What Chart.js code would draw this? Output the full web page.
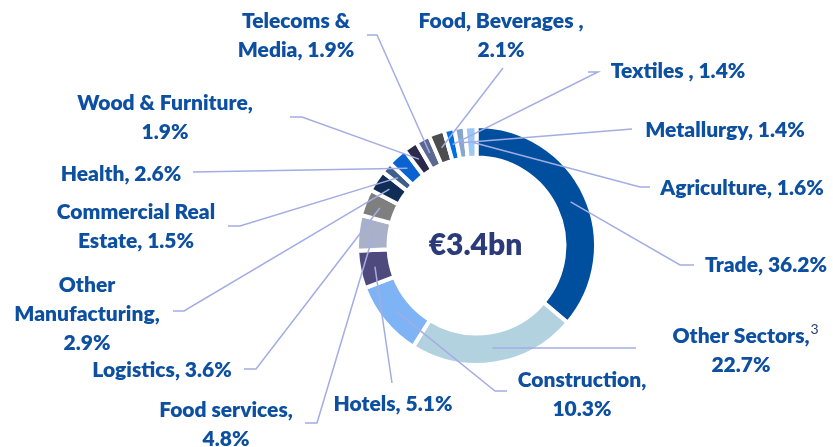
<!DOCTYPE html>
<html>
<head>
<meta charset="utf-8">
<script src="https://cdn.jsdelivr.net/npm/chart.js@4.4.1/dist/chart.umd.min.js"></script>
<style>
    html, body { margin: 0; padding: 0; background: #fff; }
    #wrap { width: 833px; height: 447px; }
</style>
</head>
<body>
<div id="wrap"><canvas id="sectorChart" width="833" height="447"></canvas></div>
<script>
// Sector split of the portfolio (%), clockwise from 12 o'clock
const categories = ['Trade', 'Other Sectors', 'Construction', 'Hotels', 'Food services', 'Logistics',
    'Other Manufacturing', 'Commercial Real Estate', 'Health', 'Wood & Furniture',
    'Telecoms & Media', 'Food, Beverages ', 'Textiles ', 'Metallurgy', 'Agriculture'];
const shares = [36.2, 22.7, 10.3, 5.1, 4.8, 3.6, 2.9, 1.5, 2.6, 1.9, 1.9, 2.1, 1.4, 1.4, 1.6];
const sliceColors = ['#004f9f', '#b3d2e0', '#7eb3f6', '#4f4a7e', '#a9b1c9', '#7f7f7f',
    '#0f2d55', '#3e5f8a', '#0a63d1', '#2b2a4a', '#5b6892', '#4d4d4d', '#0070e0', '#86a6cb', '#9cc8f8'];
const totalLabel = '€3.4bn';

// Label placement: text centre x, first baseline y, words per line, leader elbow points
const labelLayout = [
    { x: 766, y: 272, words: [3], leader: [[680, 265], [694, 265]] },
    { x: 741, y: 343, words: [2, 1], leader: [[636, 348]], note: '3' },
    { x: 582, y: 387, words: [1, 1], leader: [[495, 391], [507, 391]] },
    { x: 393, y: 411, words: [2], leader: [[392, 383]] },
    { x: 226, y: 417, words: [2, 1], leader: [[317, 423], [305, 423]] },
    { x: 162, y: 377, words: [2], leader: [[256, 369], [244, 369]] },
    { x: 87, y: 292, words: [1, 1, 1], leader: [[184, 311], [173, 311]] },
    { x: 136, y: 219, words: [2, 2], leader: [[240, 226], [228, 226]] },
    { x: 121, y: 181, words: [2], leader: [[193, 172]] },
    { x: 165, y: 110, words: [3, 1], leader: [[302, 117], [290, 117]] },
    { x: 296, y: 28, words: [2, 2], leader: [[377, 35], [367, 35]] },
    { x: 501, y: 28, words: [3, 1], leader: [[503, 68]] },
    { x: 678, y: 78, words: [3], leader: [[598, 72], [588, 72]] },
    { x: 725, y: 137, words: [2], leader: [[632, 129]] },
    { x: 742, y: 195, words: [2], leader: [[640, 187], [650, 187]] }
];

const textColor = '#0d4fa0';
const leaderColor = '#a3ade3';
const labelFont = '800 21px Lato, "DejaVu Sans", sans-serif';

function labelLines(i) {
    const words = (categories[i] + ', ' + shares[i].toFixed(1) + '%').split(' ').filter(w => w.length);
    const lines = [];
    let k = 0;
    labelLayout[i].words.forEach((n, li, arr) => {
        const take = li === arr.length - 1 ? words.length - k : n;
        lines.push(words.slice(k, k + take).join(' '));
        k += take;
    });
    return lines;
}

// Draws the leader lines, outside labels and the total in the hole
const calloutPlugin = {
    id: 'callouts',
    afterDatasetsDraw(chart) {
        const ctx = chart.ctx;
        const meta = chart.getDatasetMeta(0);
        ctx.save();

        // leader lines from the middle of each ring segment
        ctx.strokeStyle = leaderColor;
        ctx.lineWidth = 1.5;
        meta.data.forEach((arc, i) => {
            const p = arc.tooltipPosition();
            ctx.beginPath();
            ctx.moveTo(p.x, p.y);
            labelLayout[i].leader.forEach(pt => ctx.lineTo(pt[0], pt[1]));
            ctx.stroke();
        });

        // labels
        ctx.font = labelFont;
        ctx.fillStyle = textColor;
        ctx.textAlign = 'center';
        ctx.textBaseline = 'alphabetic';
        labelLayout.forEach((lab, i) => {
            const lines = labelLines(i);
            lines.forEach((line, li) => {
                ctx.fillText(line, lab.x, lab.y + li * 29);
            });
            if (lab.note) {
                const w = ctx.measureText(lines[0]).width;
                ctx.save();
                ctx.font = '14px Lato, sans-serif';
                ctx.fillStyle = '#2b3a78';
                ctx.textAlign = 'left';
                ctx.fillText(lab.note, lab.x + w / 2 + 1, lab.y - 9);
                ctx.restore();
            }
        });

        // total in the centre
        const c = meta.data[0];
        ctx.font = '800 30px Lato, sans-serif';
        ctx.fillStyle = '#2b3a78';
        ctx.textBaseline = 'middle';
        ctx.fillText(totalLabel, c.x - 1, c.y);
        ctx.restore();
    }
};

const chartConfig = {
    type: 'doughnut',
    data: {
        labels: categories,
        datasets: [{
            data: shares,
            backgroundColor: sliceColors,
            borderColor: '#ffffff',
            borderWidth: 4,
            hoverBorderWidth: 4,
            borderJoinStyle: 'miter',
            hoverOffset: 0
        }]
    },
    options: {
        responsive: false,
        animation: false,
        cutout: '73.6%',
        layout: {
            padding: { left: 355, right: 235, top: 124, bottom: 80 }
        },
        plugins: {
            legend: { display: false },
            tooltip: { enabled: false }
        }
    },
    plugins: [calloutPlugin]
};

document.addEventListener('DOMContentLoaded', () => {
    const ctx = document.getElementById('sectorChart').getContext('2d');
    new Chart(ctx, chartConfig);
});
</script>
</body>
</html>
